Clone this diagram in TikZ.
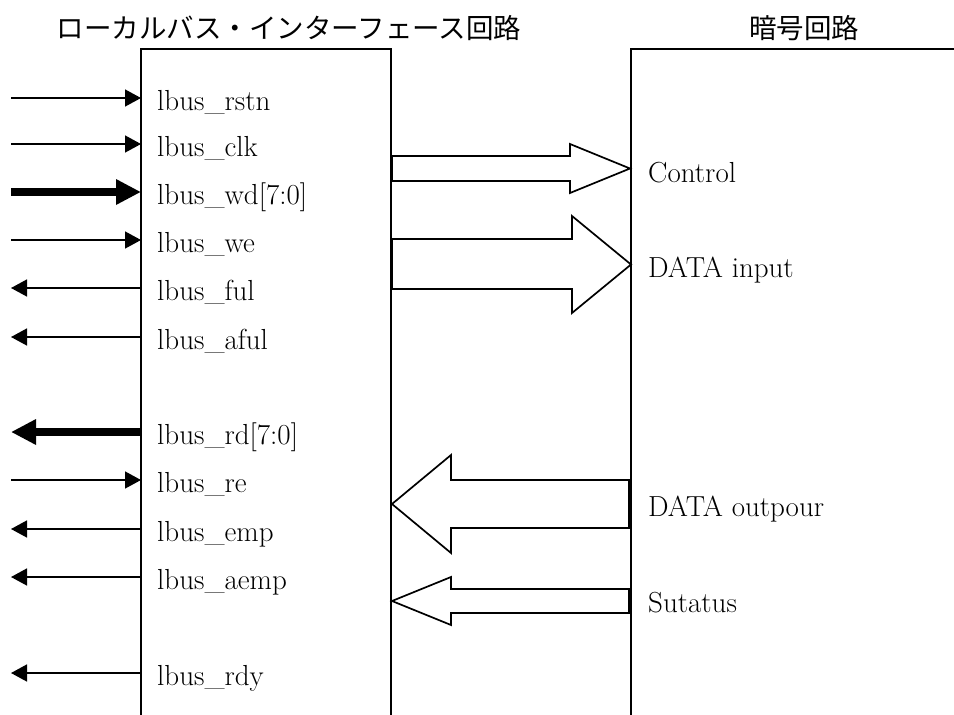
\documentclass[tikz,border=0pt]{standalone}
\usepackage{fontspec}
\newfontfamily\jpfont{Noto Sans CJK JP}
\usetikzlibrary{arrows.meta}

\begin{document}
\begin{tikzpicture}[x=1pt,y=-1pt,
  boxline/.style={line width=2pt},
  sig/.style={line width=1.5pt,-{Triangle[length=16pt,width=17pt]}},
  bus/.style={line width=8pt,-{Triangle[length=25pt,width=24pt]}},
  blk/.style={line width=1.7pt,line join=miter,fill=white},
  lbl/.style={anchor=base west,inner sep=0pt,font=\fontsize{29}{33}\selectfont},
  ttl/.style={inner sep=0pt,font=\jpfont\fontsize{27.5}{30}\selectfont}]

\useasboundingbox (0,0) rectangle (954,715);

% block outlines (open at the bottom and on the far right)
\coordinate (ifTL) at (141,49);
\coordinate (ifTR) at (391,49);
\coordinate (crTL) at (631,49);
\draw[boxline] (141,715) -- (ifTL) -- (ifTR) -- (391,715);
\draw[boxline] (631,715) -- (crTL) -- (954,49);

% titles
\node[ttl] (iftitle) at (289,28) {ローカルバス・インターフェース回路};
\node[ttl] (crtitle) at (804,28) {暗号回路};

% local bus ports: name / y / label
\foreach \n/\y/\t in {rstn/98/lbus\_rstn, clk/144/lbus\_clk, wd/192/{lbus\_wd[7:0]},
                      we/240/lbus\_we, ful/288/lbus\_ful, aful/337/lbus\_aful,
                      rd/432/{lbus\_rd[7:0]}, re/480/lbus\_re, emp/529/lbus\_emp,
                      aemp/577/lbus\_aemp, rdy/673/lbus\_rdy} {
  \coordinate (\n-out) at (11,\y);
  \coordinate (\n-pin) at (141,\y);
  \node[lbl] (\n-lbl) at (157,\y+12.5) {\t};
}

% inputs
\draw[sig] (rstn-out) -- (rstn-pin);
\draw[sig] (clk-out) -- (clk-pin);
\draw[bus] (wd-out) -- (wd-pin);
\draw[sig] (we-out) -- (we-pin);
\draw[sig] (re-out) -- (re-pin);
% outputs
\draw[sig] (ful-pin) -- (ful-out);
\draw[sig] (aful-pin) -- (aful-out);
\draw[bus] (rd-pin) -- (rd-out);
\draw[sig] (emp-pin) -- (emp-out);
\draw[sig] (aemp-pin) -- (aemp-out);
\draw[sig] (rdy-pin) -- (rdy-out);

% cipher side labels
\node[lbl] (ctl-lbl)  at (648,182)   {Control};
\node[lbl] (din-lbl)  at (648,277.5) {DATA input};
\node[lbl] (dout-lbl) at (648,516.5) {DATA outpour};
\node[lbl] (st-lbl)   at (648,612.5) {Sutatus};

% wide interface arrows
\draw[blk] (392,156) -- (570,156) -- (570,144) -- (630,168.5) -- (570,193)
           -- (570,181) -- (392,181) -- cycle;
\draw[blk] (392,239) -- (572,239) -- (572,216) -- (631,264.5) -- (572,313)
           -- (572,289) -- (392,289) -- cycle;
\draw[blk] (629,480) -- (451,480) -- (451,455) -- (392,504) -- (451,553)
           -- (451,528) -- (629,528) -- cycle;
\draw[blk] (629,589) -- (451,589) -- (451,577) -- (392,601) -- (451,625)
           -- (451,613) -- (629,613) -- cycle;
\end{tikzpicture}
\end{document}
